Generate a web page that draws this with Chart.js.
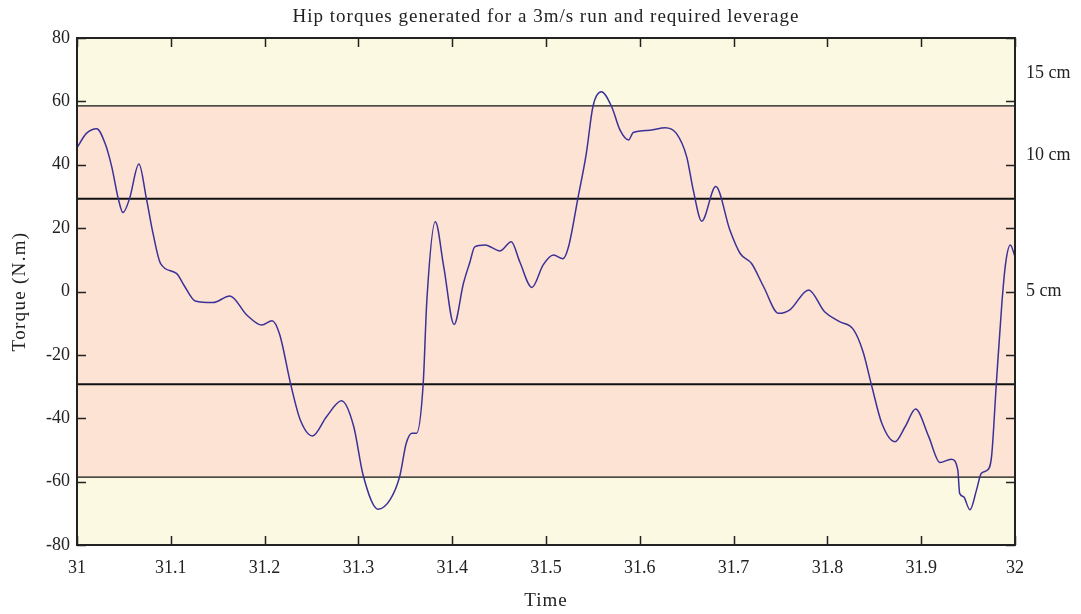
<!DOCTYPE html>
<html>
<head>
<meta charset="utf-8">
<script src="https://cdn.jsdelivr.net/npm/chart.js@4/dist/chart.umd.min.js"></script>
<style>
  body { margin: 0; background: #fff; }
</style>
</head>
<body>
<canvas id="hip" width="1081" height="614"></canvas>
<script>
// time (s) and hip torque (N.m)
const times = [
  31.000, 31.010, 31.021, 31.030, 31.037, 31.044, 31.049, 31.056, 31.066, 31.074,
  31.081, 31.089, 31.106, 31.115, 31.126, 31.145, 31.163, 31.181, 31.197, 31.208,
  31.216, 31.228, 31.238, 31.251, 31.266, 31.282, 31.295, 31.305, 31.321, 31.334,
  31.344, 31.351, 31.357, 31.362, 31.369, 31.373, 31.382, 31.391, 31.402, 31.412,
  31.419, 31.424, 31.435, 31.451, 31.463, 31.472, 31.485, 31.497, 31.508, 31.518,
  31.524, 31.534, 31.543, 31.550, 31.559, 31.570, 31.579, 31.588, 31.593, 31.611,
  31.627, 31.639, 31.650, 31.657, 31.666, 31.681, 31.696, 31.707, 31.719, 31.732,
  31.748, 31.760, 31.780, 31.797, 31.813, 31.828, 31.838, 31.847, 31.858, 31.872,
  31.883, 31.894, 31.908, 31.920, 31.932, 31.939, 31.941, 31.945, 31.952, 31.959,
  31.964, 31.970, 31.975, 31.980, 31.986, 31.990, 31.995, 32.000
];
const torque = [
  45.4, 49.9, 51.4, 46.7, 39.4, 29.3, 24.9, 29.3, 40.2, 29.3,
  18.4, 8.9, 5.7, 1.5, -3.0, -3.5, -1.4, -7.4, -10.6, -9.2,
  -13.5, -29.5, -40.5, -45.6, -39.5, -34.5, -42.6, -57.9, -68.7, -65.6,
  -58.4, -47.9, -44.7, -44.7, -29.5, -2.7, 22.0, 7.8, -10.4, 2.6,
  9.4, 14.1, 14.7, 12.8, 15.7, 9.4, 1.3, 8.4, 11.5, 10.3,
  14.1, 29.4, 43.6, 58.3, 63.0, 58.3, 50.9, 47.8, 50.2, 50.9,
  51.7, 49.9, 42.5, 32.0, 22.2, 33.1, 19.4, 12.0, 8.9, 1.5,
  -6.9, -5.8, 0.5, -6.4, -9.5, -12.1, -19.0, -29.5, -41.6, -47.4,
  -42.6, -37.1, -45.8, -54.0, -52.9, -56.3, -63.7, -64.7, -68.9, -62.6,
  -57.4, -56.5, -52.1, -29.5, -3.7, 8.9, 14.7, 11.0
];

const xTicks = [31, 31.1, 31.2, 31.3, 31.4, 31.5, 31.6, 31.7, 31.8, 31.9, 32];
const leverLabels = ['15 cm', '10 cm', '5 cm'];
const leverValues = [68.8, 43.1, 0];
const bandLimit = 58.6;          // edge of the pink band
const refLines = [58.6, 29.3, -29.3, -58.6];

const titleText = 'Hip torques generated for a 3m/s run and required leverage';
const xTitle = 'Time';
const yTitle = 'Torque (N.m)';

const serif = '"Liberation Serif", "DejaVu Serif", serif';
const textColor = '#222';

const pts = times.map((t, i) => ({ x: t, y: torque[i] }));

// background bands + reference lines
const bands = {
  id: 'bands',
  beforeDatasetsDraw(chart) {
    const { ctx, chartArea: a, scales: { y } } = chart;
    ctx.save();
    ctx.fillStyle = '#fcf9e2';
    ctx.fillRect(a.left, a.top, a.right - a.left, a.bottom - a.top);
    const t = y.getPixelForValue(bandLimit), b = y.getPixelForValue(-bandLimit);
    ctx.fillStyle = '#fde3d4';
    ctx.fillRect(a.left, t, a.right - a.left, b - t);
    refLines.forEach(v => {
      const py = y.getPixelForValue(v);
      ctx.beginPath();
      ctx.lineWidth = Math.abs(v) < 40 ? 2 : 1.3;
      ctx.strokeStyle = '#111';
      ctx.moveTo(a.left, py);
      ctx.lineTo(a.right, py);
      ctx.stroke();
    });
    ctx.restore();
  }
};

// frame with inward tick marks, plus the titles (the source font is wider, so a little letter spacing)
const frame = {
  id: 'frame',
  afterDraw(chart) {
    const { ctx, chartArea: a, scales: { x, y } } = chart;
    const len = 9;
    ctx.save();
    ctx.strokeStyle = '#222';
    ctx.lineWidth = 1.5;
    y.ticks.forEach(tk => {
      const py = Math.round(y.getPixelForValue(tk.value)) + 0.5;
      ctx.beginPath();
      ctx.moveTo(a.left, py); ctx.lineTo(a.left + len, py);
      ctx.moveTo(a.right, py); ctx.lineTo(a.right - len, py);
      ctx.stroke();
    });
    x.ticks.forEach(tk => {
      const px = Math.round(x.getPixelForValue(tk.value)) + 0.5;
      ctx.beginPath();
      ctx.moveTo(px, a.bottom); ctx.lineTo(px, a.bottom - len);
      ctx.moveTo(px, a.top); ctx.lineTo(px, a.top + len);
      ctx.stroke();
    });
    ctx.lineWidth = 2;
    ctx.strokeRect(a.left, a.top, a.right - a.left, a.bottom - a.top);

    const cx = (a.left + a.right) / 2;
    ctx.fillStyle = textColor;
    ctx.font = '19px ' + serif;
    ctx.textAlign = 'center';
    ctx.textBaseline = 'middle';
    ctx.letterSpacing = '1px';
    ctx.fillText(titleText, cx, 17);
    ctx.fillText(xTitle, cx, 601);
    ctx.letterSpacing = '1.3px';
    ctx.translate(20, (a.top + a.bottom) / 2);
    ctx.rotate(-Math.PI / 2);
    ctx.fillText(yTitle, 0, 0);
    ctx.restore();
  }
};

new Chart(document.getElementById('hip'), {
  type: 'line',
  data: {
    datasets: [{
      data: pts,
      borderColor: '#3b3197',
      borderWidth: 1.5,
      pointRadius: 0,
      fill: false,
      cubicInterpolationMode: 'monotone'
    }]
  },
  options: {
    responsive: false,
    animation: false,
    layout: { padding: { top: 38 } },
    plugins: {
      legend: { display: false },
      tooltip: { enabled: false },
      title: { display: false }
    },
    scales: {
      x: {
        type: 'linear',
        min: 31,
        max: 32,
        afterBuildTicks: s => { s.ticks = xTicks.map(v => ({ value: v })); },
        afterFit: s => { s.height = 69; },
        grid: { display: false, drawTicks: false },
        border: { display: false },
        ticks: {
          color: textColor,
          padding: 12,
          maxRotation: 0,
          font: { family: serif, size: 18 },
          callback: v => String(Math.round(v * 10) / 10)
        }
      },
      y: {
        min: -80,
        max: 80,
        ticks: {
          stepSize: 20,
          color: textColor,
          padding: 7,
          font: { family: serif, size: 18 }
        },
        afterFit: s => { s.width = 77; },
        grid: { display: false, drawTicks: false },
        border: { display: false }
      },
      y2: {
        position: 'right',
        min: -80,
        max: 80,
        afterBuildTicks: s => { s.ticks = leverValues.map(v => ({ value: v })); },
        afterFit: s => { s.width = 66; },
        grid: { display: false, drawTicks: false },
        border: { display: false },
        ticks: {
          color: textColor,
          padding: 11,
          font: { family: serif, size: 18 },
          callback: (v, i) => leverLabels[i]
        }
      }
    }
  },
  plugins: [bands, frame]
});
</script>
</body>
</html>
